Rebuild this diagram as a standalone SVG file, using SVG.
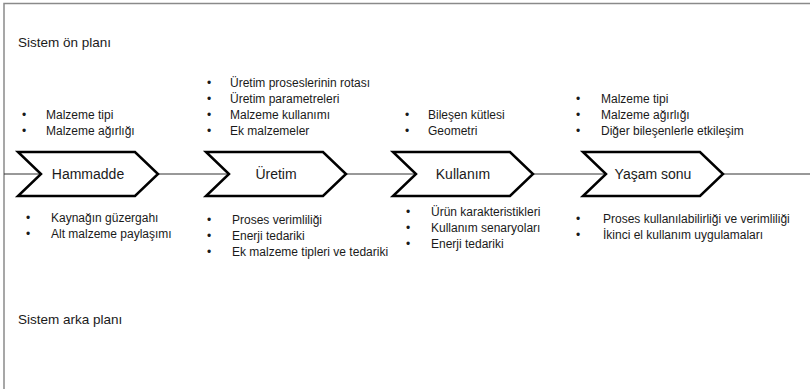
<svg xmlns="http://www.w3.org/2000/svg" width="810" height="389" viewBox="0 0 810 389">
  <style>
    .frame { stroke: #8a8a8a; stroke-width: 1.5; fill: none; }
    .stage { fill: #ffffff; stroke: #000000; stroke-width: 2.5; stroke-linejoin: miter; }
    .link { stroke: #333333; stroke-width: 1; fill: none; }
    .title { font-family: "Liberation Sans", Arial, sans-serif; font-size: 13.5px; fill: #1a1a1a; }
    .label { font-family: "Liberation Sans", Arial, sans-serif; font-size: 14px; fill: #1a1a1a; text-anchor: middle; }
    .item { font-family: "Liberation Sans", Arial, sans-serif; font-size: 12px; fill: #1a1a1a; }
  </style>
  <defs>
    <path id="chevron" d="M0,152 L117,152 L140,174 L117,196 L0,196 L23,174 Z"/>
  </defs>

  <rect x="0" y="0" width="810" height="389" fill="#ffffff"/>
  <!-- outer frame: top and left edges -->
  <path class="frame" d="M4,389 L4,3.5 L810,3.5"/>

  <text class="title" x="18" y="47">Sistem ön planı</text>
  <text class="title" x="18" y="324">Sistem arka planı</text>

  <g id="connectors">
    <line class="link" x1="4" y1="174" x2="41" y2="174"/>
    <line class="link" x1="158" y1="174" x2="229" y2="174"/>
    <line class="link" x1="346" y1="174" x2="416" y2="174"/>
    <line class="link" x1="533" y1="174" x2="606" y2="174"/>
    <line class="link" x1="723" y1="174" x2="810" y2="174"/>
  </g>

  <g id="hammadde">
    <use href="#chevron" class="stage" x="18"/>
    <text class="label" x="88" y="179">Hammadde</text>
    <g class="item">
      <text x="22" y="119">•</text><text x="46" y="119">Malzeme tipi</text>
      <text x="22" y="135">•</text><text x="46" y="135">Malzeme ağırlığı</text>
      <text x="26" y="222">•</text><text x="51" y="222">Kaynağın güzergahı</text>
      <text x="26" y="238">•</text><text x="51" y="238">Alt malzeme paylaşımı</text>
    </g>
  </g>

  <g id="uretim">
    <use href="#chevron" class="stage" x="206"/>
    <text class="label" x="276" y="179">Üretim</text>
    <g class="item">
      <text x="207" y="87">•</text><text x="230" y="87">Üretim proseslerinin rotası</text>
      <text x="207" y="103">•</text><text x="230" y="103">Üretim parametreleri</text>
      <text x="207" y="119">•</text><text x="230" y="119">Malzeme kullanımı</text>
      <text x="207" y="135">•</text><text x="230" y="135">Ek malzemeler</text>
      <text x="207" y="224">•</text><text x="232" y="224">Proses verimliliği</text>
      <text x="207" y="240">•</text><text x="232" y="240">Enerji tedariki</text>
      <text x="207" y="256">•</text><text x="232" y="256">Ek malzeme tipleri ve tedariki</text>
    </g>
  </g>

  <g id="kullanim">
    <use href="#chevron" class="stage" x="393"/>
    <text class="label" x="463" y="179">Kullanım</text>
    <g class="item">
      <text x="405" y="119">•</text><text x="428" y="119">Bileşen kütlesi</text>
      <text x="405" y="135">•</text><text x="428" y="135">Geometri</text>
      <text x="406" y="216">•</text><text x="431" y="216">Ürün karakteristikleri</text>
      <text x="406" y="232">•</text><text x="431" y="232">Kullanım senaryoları</text>
      <text x="406" y="248">•</text><text x="431" y="248">Enerji tedariki</text>
    </g>
  </g>

  <g id="yasam-sonu">
    <use href="#chevron" class="stage" x="583"/>
    <text class="label" x="653" y="179">Yaşam sonu</text>
    <g class="item">
      <text x="576" y="103">•</text><text x="601" y="103">Malzeme tipi</text>
      <text x="576" y="119">•</text><text x="601" y="119">Malzeme ağırlığı</text>
      <text x="576" y="135">•</text><text x="601" y="135">Diğer bileşenlerle etkileşim</text>
      <text x="576" y="223">•</text><text x="603" y="223">Proses kullanılabilirliği ve verimliliği</text>
      <text x="576" y="239">•</text><text x="603" y="239">İkinci el kullanım uygulamaları</text>
    </g>
  </g>
</svg>
